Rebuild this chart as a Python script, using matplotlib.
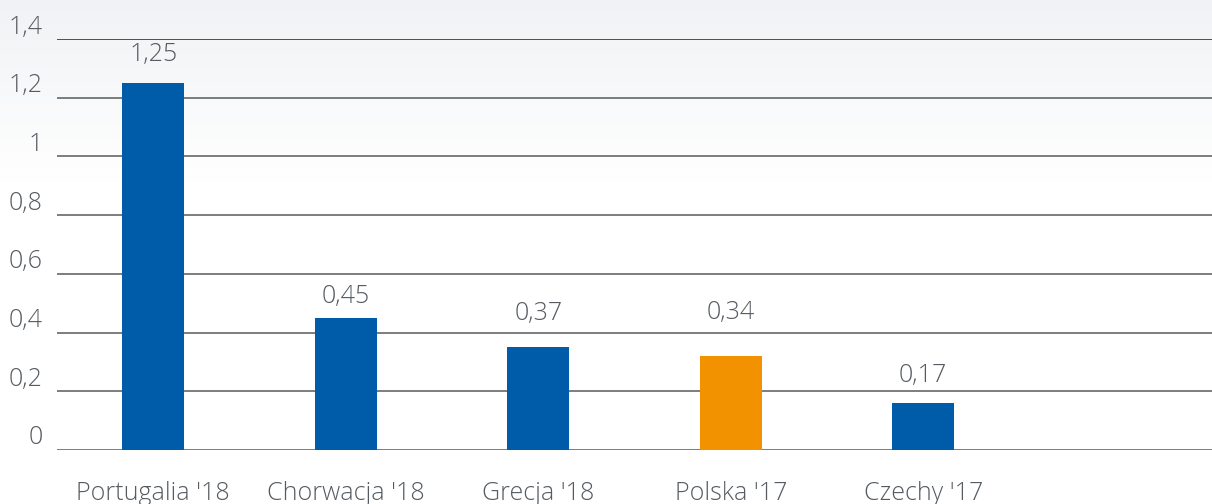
import numpy as np
import matplotlib
matplotlib.use("Agg")
import matplotlib.pyplot as plt
from matplotlib.transforms import offset_copy, blended_transform_factory

# data
categories = ["Portugalia '18", "Chorwacja '18", "Grecja '18", "Polska '17", "Czechy '17", ""]
bar_values = [1.25, 0.45, 0.35, 0.32, 0.16]
value_labels = ["1,25", "0,45", "0,37", "0,34", "0,17"]
label_offsets_px = [29, 21, 34, 44, 28]
bar_colors = ["#005CA9", "#005CA9", "#005CA9", "#F39200", "#005CA9"]
yticks = [0, 0.2, 0.4, 0.6, 0.8, 1.0, 1.2, 1.4]
ytick_labels = ["0", "0,2", "0,4", "0,6", "0,8", "1", "1,2", "1,4"]

TXT = "#555b61"
FS = 18
plt.rcParams["font.family"] = ["Open Sans", "DejaVu Sans"]

W, H = 1212, 504
fig = plt.figure(figsize=(W / 100, H / 100), dpi=100)

# background gradient (light gray at top -> white)
bg = fig.add_axes([0, 0, 1, 1], zorder=-10)
grad = np.linspace(0, 1, 504)
top = np.array([0.945, 0.95, 0.96])
rows = np.clip(grad / 0.36, 0, 1)[:, None]
img = top + (1 - top) * rows
bg.imshow(np.repeat(img[:, None, :], 2, axis=1), aspect="auto", extent=[0, 1, 0, 1],
          origin="upper")
bg.axis("off")

ax = fig.add_axes([57 / W, 1 - 450 / H, (W - 57) / W, (450 - 39) / H])
ax.patch.set_alpha(0)
x = np.arange(len(categories))
ax.bar(x[:len(bar_values)], bar_values, width=0.32, color=bar_colors, zorder=3)
ax.set_xlim(-0.5, len(categories) - 0.5)
ax.set_ylim(0, 1.4)

for i, (v, lab, off) in enumerate(zip(bar_values, value_labels, label_offsets_px)):
    tr = offset_copy(ax.transData, fig=fig, x=0, y=off * 0.72, units="points")
    ax.text(i, v, lab, transform=tr, ha="center", va="center", fontsize=FS,
            color=TXT, fontweight="light")

for y in yticks:
    ax.axhline(y, color="#222222" if y == 1.4 else "#5a5a5a", lw=1.1, zorder=1)

# y labels sit a little above their gridlines
ytr = offset_copy(blended_transform_factory(ax.transAxes, ax.transData), fig=fig,
                  x=-14 * 0.72, y=12 * 0.72, units="points")
for y, lab in zip(yticks, ytick_labels):
    ax.text(0, y, lab, transform=ytr, ha="right", va="center", fontsize=FS,
            color=TXT, fontweight="light")
ax.set_yticks([])

ax.set_xticks(x)
ax.set_xticklabels(categories)
ax.tick_params(axis="x", length=0, pad=22, labelsize=FS, labelcolor=TXT)
for lbl in ax.get_xticklabels():
    lbl.set_fontweight("light")
for s in ax.spines.values():
    s.set_visible(False)

fig.savefig("out.png", dpi=100)
